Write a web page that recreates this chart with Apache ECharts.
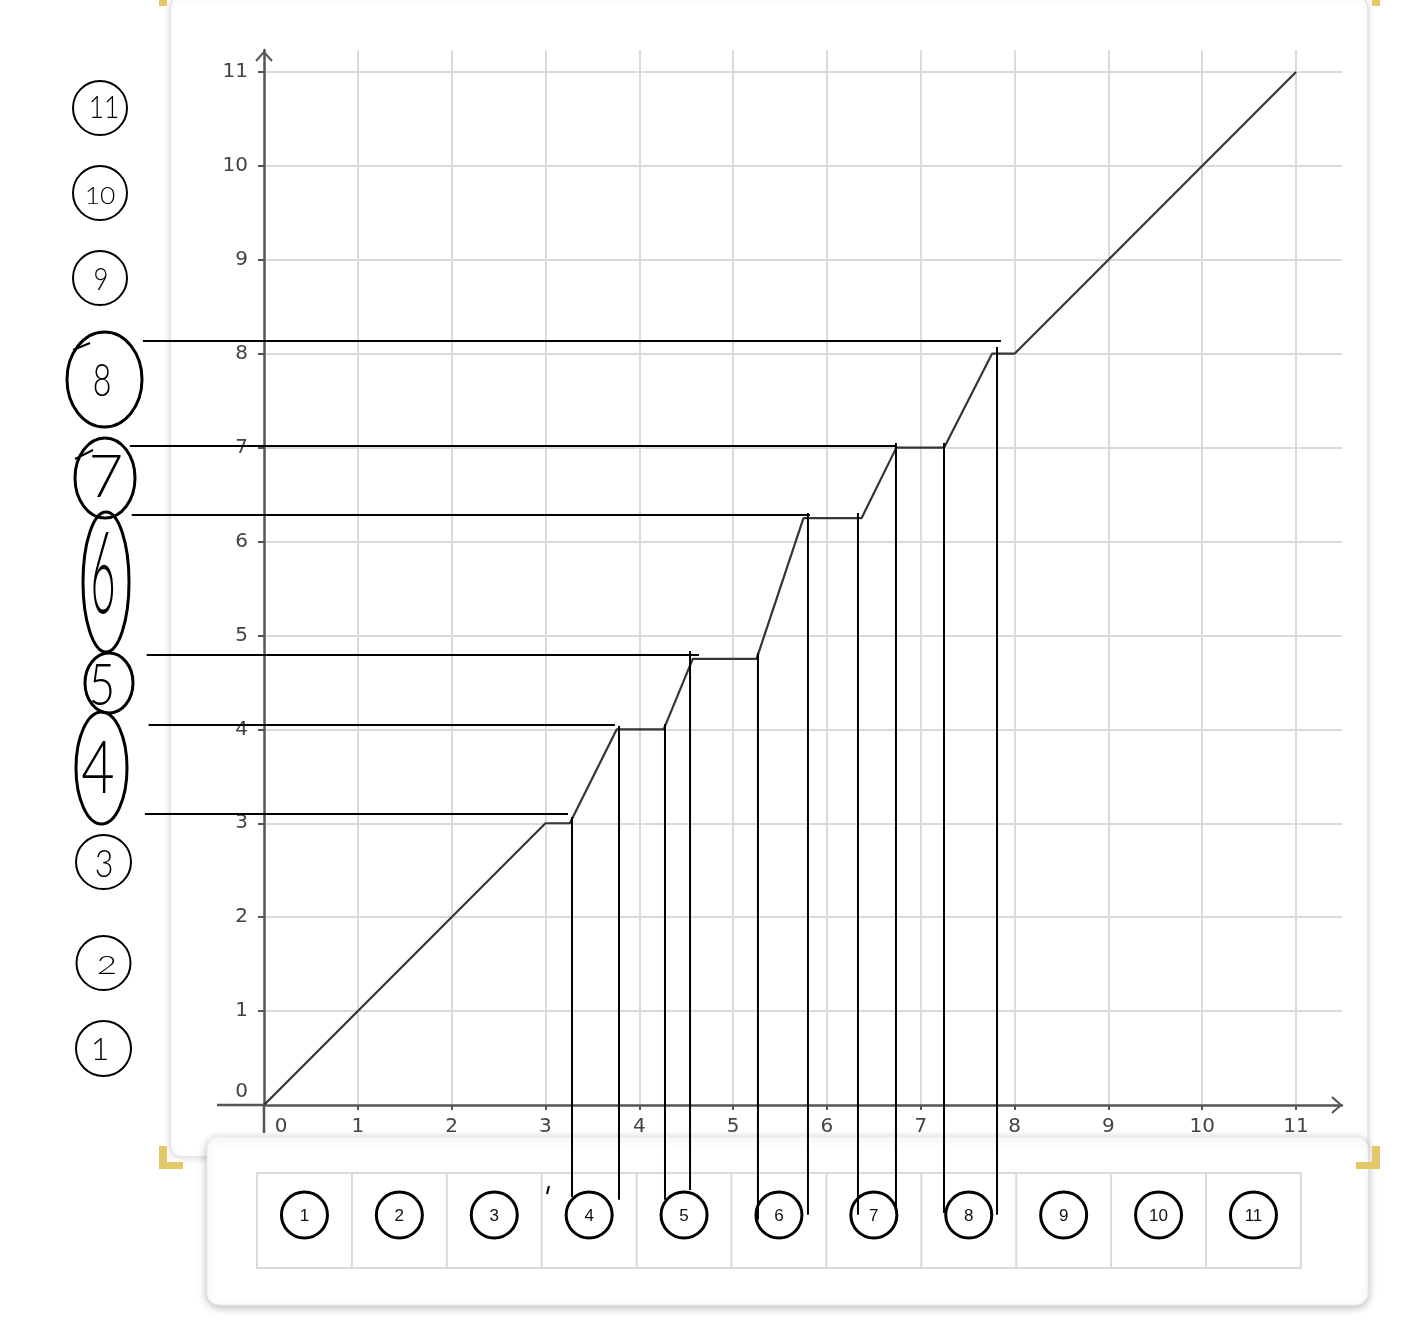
<!DOCTYPE html>
<html><head><meta charset="utf-8">
<script src="https://cdn.jsdelivr.net/npm/echarts@6/dist/echarts.min.js"></script>
<style>html,body{margin:0;padding:0;background:#fff}#c{width:1414px;height:1322px}</style>
</head><body><div id="c"></div>
<script>
// ---- data ----
const xTicks = [0,1,2,3,4,5,6,7,8,9,10,11];
const yTicks = [0,1,2,3,4,5,6,7,8,9,10,11];
const curveX = [0, 3, 3.26, 3.76, 4.26, 4.57, 5.25, 5.75, 6.37, 6.74, 7.25, 7.76, 8, 11];
const curveY = [0, 3, 3,    4,    4,    4.75, 4.75, 6.25, 6.25, 7,    7,    8,    8, 11];
// hand-drawn guide lines (data units)
const hGuideY    = [8.135, 7.017, 6.283, 4.792, 4.046, 3.099];
const hGuideFrom = [-1.29, -1.43, -1.41, -1.25, -1.23, -1.27];
const hGuideTo   = [7.855, 6.726, 5.82, 4.636, 3.741, 3.24];
const vGuideX      = [3.283, 3.784, 4.274, 4.541, 5.265, 5.798, 6.331, 6.736, 7.248, 7.813];
const vGuideTop    = [3.067, 4.036, 4.057, 4.834, 4.813, 6.304, 6.304, 7.049, 7.049, 8.072];
const vGuideBottom = [-0.98, -1.01, -1.01, -0.905, -1.22, -1.17, -1.17, -1.14, -1.15, -1.17];
const sideLabels = ['1','2','3','4','5','6','7','8','9','10','11'];
const boxLabels  = ['1','2','3','4','5','6','7','8','9','10','11'];

// ---- layout / style ----
const X_MAX = 11.49, Y_MAX = 11.234;
const GX = 264, GY = 50, UX = 93.82, UY = 93.91;   // origin column, top, px per unit
const G2_XMIN = -1.5, G2_YMIN = -1.3;              // overlay grid for pen guides
const AXIS_COLOR = '#555555', LABEL_COLOR = '#434343', GRID_COLOR = '#dadada';
const YELLOW = '#e2c866';

const chart = echarts.init(document.getElementById('c'), null, {renderer: 'canvas'});

const gridLines = [];
xTicks.filter(v => v > 0).forEach(v => gridLines.push([{coord: [v, 0]}, {coord: [v, Y_MAX]}]));
yTicks.filter(v => v > 0).forEach(v => gridLines.push([{coord: [0, v]}, {coord: [X_MAX, v]}]));

const series = [];
series.push({
  type: 'line', data: [[0, 0]], symbol: 'none', silent: true, z: 1,
  lineStyle: {width: 0, opacity: 0}, animation: false,
  markLine: {
    z: 1, silent: true, symbol: 'none', animation: false,
    label: {show: false}, emphasis: {disabled: true},
    lineStyle: {type: 'solid', color: GRID_COLOR, width: 2},
    data: gridLines
  }
});
series.push({
  type: 'line', data: curveX.map((x, i) => [x, curveY[i]]),
  symbol: 'none', silent: true, z: 4, clip: false, animation: false,
  lineStyle: {color: '#353535', width: 2.2}
});
hGuideY.forEach((y, i) => series.push({
  type: 'line', xAxisIndex: 1, yAxisIndex: 1, data: [[hGuideFrom[i], y], [hGuideTo[i], y]],
  symbol: 'none', silent: true, z: 5, clip: false, animation: false,
  lineStyle: {color: '#000', width: 2}
}));
vGuideX.forEach((x, i) => series.push({
  type: 'line', xAxisIndex: 1, yAxisIndex: 1, data: [[x, vGuideTop[i]], [x, vGuideBottom[i]]],
  symbol: 'none', silent: true, z: 5, clip: false, animation: false,
  lineStyle: {color: '#000', width: 2}
}));

// ---- decorations ----
const els = [];
els.push({type: 'rect', z: -10, shape: {x: 170, y: -4, width: 1198, height: 1161, r: 12},
  style: {fill: '#fff', stroke: '#e4e4e4', lineWidth: 1.5, shadowBlur: 6, shadowColor: 'rgba(0,0,0,0.12)', shadowOffsetY: 1}});
els.push({type: 'rect', z: -9, shape: {x: 207, y: 1137, width: 1161, height: 168, r: 12},
  style: {fill: '#fff', stroke: '#ececec', lineWidth: 1, shadowBlur: 8, shadowColor: 'rgba(0,0,0,0.28)', shadowOffsetY: 2}});
[[159,0,8,6],[1372,0,8,6],[159,1146,8,23],[159,1162,24,7],[1372,1146,8,23],[1356,1162,24,7]].forEach(r =>
  els.push({type: 'rect', z: -8, shape: {x: r[0], y: r[1], width: r[2], height: r[3]}, style: {fill: YELLOW}}));
// axis extensions past the origin and arrow heads
els.push({type: 'line', z: 6, shape: {x1: 217, y1: 1105, x2: GX, y2: 1105}, style: {stroke: AXIS_COLOR, lineWidth: 2.5}});
els.push({type: 'line', z: 6, shape: {x1: GX, y1: 1105, x2: GX, y2: 1133}, style: {stroke: AXIS_COLOR, lineWidth: 2.5}});
els.push({type: 'polyline', z: 6, shape: {points: [[256,61],[264,52],[272,61]]}, style: {fill: 'none', stroke: AXIS_COLOR, lineWidth: 2}});
els.push({type: 'polyline', z: 6, shape: {points: [[1332,1097],[1341,1105],[1332,1113]]}, style: {fill: 'none', stroke: AXIS_COLOR, lineWidth: 2}});
// table
const TX = 257, TY = 1173, CW = 94.9, TH = 95;
els.push({type: 'rect', z: -5, shape: {x: TX, y: TY, width: CW * boxLabels.length, height: TH}, style: {fill: 'none', stroke: '#dadada', lineWidth: 2}});
boxLabels.forEach((t, i) => {
  if (i > 0) els.push({type: 'line', z: -5, shape: {x1: TX + CW * i, y1: TY, x2: TX + CW * i, y2: TY + TH}, style: {stroke: '#dadada', lineWidth: 2}});
  const cx = TX + CW * (i + 0.5);
  els.push({type: 'circle', z: 7, shape: {cx: cx, cy: 1215, r: 23}, style: {fill: 'none', stroke: '#000', lineWidth: 3}});
  els.push({type: 'text', z: 7, x: cx, y: 1216, style: {text: t, font: '17px "Liberation Sans", Arial, sans-serif', fill: '#111', align: 'center', verticalAlign: 'middle'}});
});
// hand-drawn side labels
const side = [
  // cx, cy, rx, ry, lw, tx, ty, fs, sx, sy
  [103.5,1048.5,27.5,27.5,2, 100,1050,32,1.0,1.0],
  [103.5, 963, 27, 27, 2, 107, 966, 25, 1.4, 1.0],
  [103.5, 862, 27.5, 27, 2, 104, 865, 38, 0.85, 1.0],
  [101.5, 768, 25.5, 56, 3, 98, 770, 72, 0.8, 1.0],
  [109, 683, 24, 30, 3, 102, 687, 57, 0.8, 1.0],
  [106, 582, 23, 70, 3, 103, 576, 60, 0.72, 1.9],
  [105, 478, 30, 40, 3, 106, 478, 60, 1.0, 1.0],
  [104.5, 379.5, 37.5, 47.5, 3, 102, 381, 46, 0.7, 1.0],
  [100, 278, 27, 27, 2, 101, 280, 32, 0.8, 1.0],
  [100, 193, 27, 27, 2, 100, 196, 24, 1.1, 1.0],
  [100, 108, 27, 27, 2, 104, 108, 31, 0.85, 1.0]
];
side.forEach((s, i) => {
  els.push({type: 'ellipse', z: 8, shape: {cx: s[0], cy: s[1], rx: s[2], ry: s[3]}, style: {fill: 'none', stroke: '#000', lineWidth: s[4]}});
  els.push({type: 'text', z: 8, x: s[5], y: s[6], scaleX: s[8], scaleY: s[9],
    style: {text: sideLabels[i], font: '300 ' + s[7] + 'px Lato, "Noto Sans", sans-serif', fill: '#000', align: 'center', verticalAlign: 'middle'}});
});
els.push({type: 'polyline', z: 8, shape: {points: [[73,350],[90,343]]}, style: {fill: 'none', stroke: '#000', lineWidth: 2}});
els.push({type: 'polyline', z: 8, shape: {points: [[75,459],[93,450]]}, style: {fill: 'none', stroke: '#000', lineWidth: 2}});
els.push({type: 'polyline', z: 8, shape: {points: [[549,1186],[547,1194]]}, style: {fill: 'none', stroke: '#000', lineWidth: 2}});

const labelRich = (pad) => ({z: {padding: pad, fontSize: 20, fontFamily: 'DejaVu Sans', color: LABEL_COLOR}});
const option = {
  backgroundColor: '#ffffff',
  animation: false,
  grid: [
    {left: GX, top: GY, width: X_MAX * UX, height: Y_MAX * UY, containLabel: false, outerBoundsMode: 'none'},
    {left: GX + G2_XMIN * UX, top: GY, width: (X_MAX - G2_XMIN) * UX, height: (Y_MAX - G2_YMIN) * UY, containLabel: false, outerBoundsMode: 'none'}
  ],
  xAxis: [{
    type: 'value', min: 0, max: X_MAX, z: 3, gridIndex: 0,
    axisLine: {onZero: false, lineStyle: {color: AXIS_COLOR, width: 2.5}},
    axisTick: {customValues: xTicks.slice(1), length: 5, lineStyle: {color: AXIS_COLOR, width: 2}},
    axisLabel: {customValues: xTicks, margin: 12, color: LABEL_COLOR, fontSize: 20, fontFamily: 'DejaVu Sans',
      formatter: v => v === 0 ? '{z|0}' : String(v), rich: labelRich([0, 0, 0, 34])},
    splitLine: {show: false}
  }, {
    type: 'value', min: G2_XMIN, max: X_MAX, gridIndex: 1, show: false
  }],
  yAxis: [{
    type: 'value', min: 0, max: Y_MAX, z: 3, gridIndex: 0,
    axisLine: {onZero: false, lineStyle: {color: AXIS_COLOR, width: 2.5}},
    axisTick: {customValues: yTicks.slice(1), length: 6, lineStyle: {color: AXIS_COLOR, width: 2}},
    axisLabel: {customValues: yTicks, margin: 16, color: LABEL_COLOR, fontSize: 20, fontFamily: 'DejaVu Sans',
      formatter: v => v === 0 ? '{z|0}' : String(v), rich: labelRich([0, 0, 26, 0])},
    splitLine: {show: false}
  }, {
    type: 'value', min: G2_YMIN, max: Y_MAX, gridIndex: 1, show: false
  }],
  graphic: {elements: els},
  series: series
};
chart.setOption(option);
</script>
</body></html>
